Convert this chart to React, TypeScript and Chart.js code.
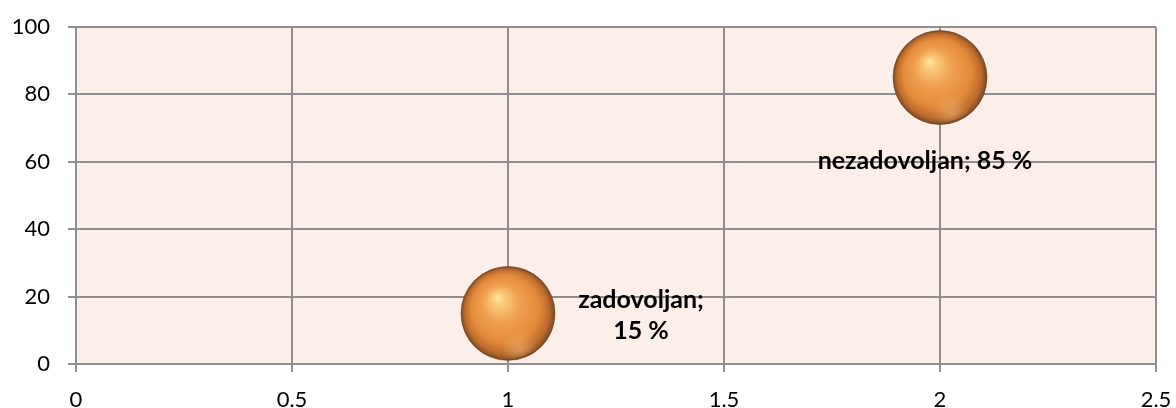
import React, { useEffect, useRef } from "react";
import { Chart, registerables } from "chart.js";

Chart.register(...registerables);

const categories = ["zadovoljan", "nezadovoljan"];
const xValues = [1, 2];
const yValues = [15, 85];
const bubbleSizes = [47, 47];
const percentLabels = ["15 %", "85 %"];
const xTicks = [0, 0.5, 1, 1.5, 2, 2.5];
const yTicks = [0, 20, 40, 60, 80, 100];

const FONT = "Lato, 'Open Sans', sans-serif";
const GRID = "#8F8F8F";

const labelPlugin = {
  id: "bubbleLabels",
  afterDatasetsDraw(chart: any) {
    const ctx = chart.ctx;
    const meta = chart.getDatasetMeta(0);
    ctx.save();
    ctx.fillStyle = "#000";
    ctx.font = `bold 25px ${FONT}`;
    ctx.textAlign = "center";
    ctx.textBaseline = "middle";
    meta.data.forEach((el: any, i: number) => {
      if (i === 0) {
        ctx.fillText(categories[i] + ";", el.x + 133, el.y - 14);
        ctx.fillText(percentLabels[i], el.x + 133, el.y + 17);
      } else {
        ctx.fillText(categories[i] + "; " + percentLabels[i], el.x - 15, el.y + 83);
      }
    });
    ctx.restore();
  },
};

const areaBgPlugin = {
  id: "areaBg",
  beforeDraw(chart: any) {
    const { ctx, chartArea } = chart;
    ctx.save();
    ctx.fillStyle = "#FCEEE9";
    ctx.fillRect(chartArea.left, chartArea.top, chartArea.right - chartArea.left, chartArea.bottom - chartArea.top);
    ctx.restore();
  },
};

const reflectionPlugin = {
  id: "reflection",
  afterDatasetDraw(chart: any) {
    const ctx = chart.ctx;
    const meta = chart.getDatasetMeta(0);
    ctx.save();
    meta.data.forEach((el: any) => {
      const r = el.options.radius;
      const g = ctx.createRadialGradient(el.x + 0.25 * r, el.y + 0.75 * r, 0, el.x + 0.25 * r, el.y + 0.75 * r, 0.4 * r);
      g.addColorStop(0, "rgba(255,215,160,0.35)");
      g.addColorStop(1, "rgba(255,215,160,0)");
      ctx.beginPath();
      ctx.arc(el.x, el.y, r - 2, 0, Math.PI * 2);
      ctx.fillStyle = g;
      ctx.fill();
    });
    ctx.restore();
  },
};

export default function App() {
  const ref = useRef<HTMLCanvasElement>(null);
  useEffect(() => {
    if (!ref.current) return;
    const chart = new Chart(ref.current, {
      type: "bubble",
      data: {
        datasets: [
          {
            label: "Series",
            data: xValues.map((x, i) => ({ x, y: yValues[i], r: bubbleSizes[i] })),
            backgroundColor: (c: any) => {
              const ch = c.chart;
              const raw = c.raw;
              if (!raw || !ch.chartArea) return "#E8913E";
              const cx = ch.scales.x.getPixelForValue(raw.x);
              const cy = ch.scales.y.getPixelForValue(raw.y);
              const r = raw.r;
              const g = ch.ctx.createRadialGradient(cx - 0.23 * r, cy - 0.35 * r, 0, cx, cy, r);
              g.addColorStop(0, "#FFEA9E");
              g.addColorStop(0.14, "#F9C978");
              g.addColorStop(0.4, "#F0A050");
              g.addColorStop(0.72, "#E38A3A");
              g.addColorStop(0.9, "#BC6A2C");
              g.addColorStop(1, "#7A4822");
              return g;
            },
            borderColor: "rgba(100,62,30,0.85)",
            borderWidth: 0.6,
            clip: false,
          },
        ],
      },
      options: {
        animation: false,
        responsive: false,
        events: [],
        layout: { autoPadding: false, padding: { top: 27, right: 20, left: 0, bottom: 0 } },
        plugins: { legend: { display: false }, tooltip: { enabled: false } },
        scales: {
          x: {
            type: "linear",
            min: 0,
            max: 2.5,
            afterBuildTicks: (axis: any) => {
              axis.ticks = xTicks.map((v) => ({ value: v }));
            },
            afterFit: (axis: any) => {
              axis.height = 44;
              axis.paddingLeft = 0;
              axis.paddingRight = 0;
            },
            grid: { color: GRID, lineWidth: 2, tickLength: 8, drawTicks: true },
            border: { color: GRID, width: 2 },
            ticks: {
              color: "#000",
              font: { family: FONT, size: 22 },
              padding: 15,
              maxRotation: 0,
              callback: (v: any) => String(v),
            },
          },
          y: {
            type: "linear",
            min: 0,
            max: 100,
            afterBuildTicks: (axis: any) => {
              axis.ticks = yTicks.map((v) => ({ value: v }));
            },
            afterFit: (axis: any) => {
              axis.width = 76;
              axis.paddingTop = 0;
              axis.paddingBottom = 0;
            },
            grid: { color: GRID, lineWidth: 2, tickLength: 8, drawTicks: true },
            border: { color: GRID, width: 2 },
            ticks: {
              color: "#000",
              font: { family: FONT, size: 22 },
              padding: 18,
              callback: (v: any) => String(v),
            },
          },
        },
      },
      plugins: [areaBgPlugin, reflectionPlugin, labelPlugin],
    });
    return () => chart.destroy();
  }, []);
  return (
    <div style={{ position: "fixed", left: 0, top: 0, width: 1176, height: 408, background: "#fff" }}>
      <canvas ref={ref} width={1176} height={408} />
    </div>
  );
}
